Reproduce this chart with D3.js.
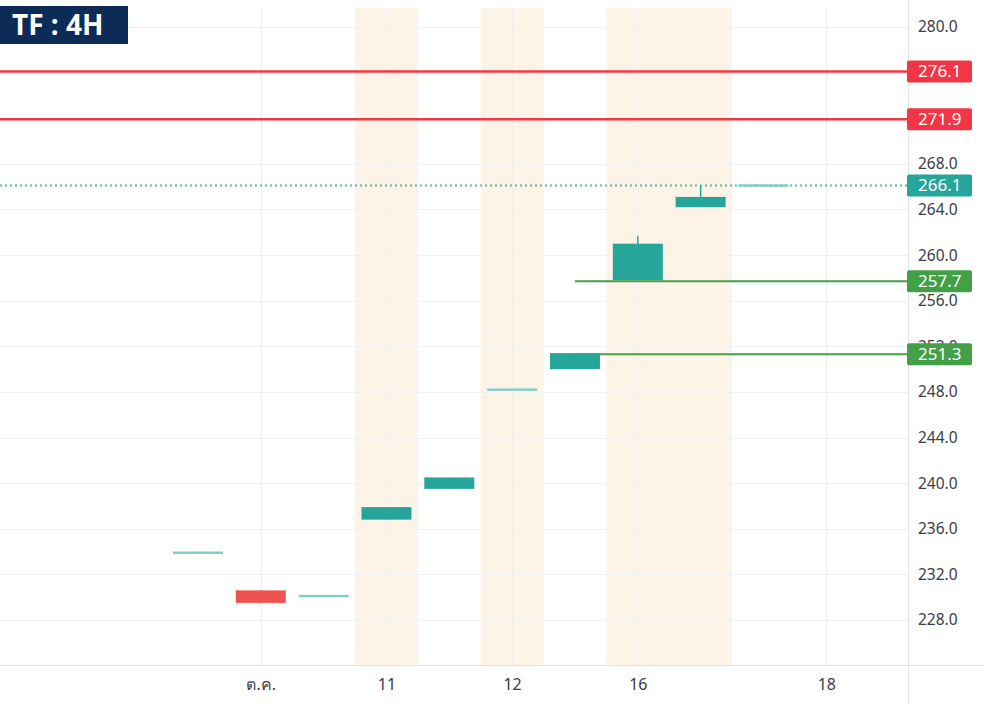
<!DOCTYPE html>
<html><head><meta charset="utf-8">
<script src="https://cdn.jsdelivr.net/npm/d3@7"></script>
<style>html,body{margin:0;padding:0;background:#fff;}svg{display:block;}</style>
</head><body>
<script>
// ---- data ----
const candleIndex = [0, 1, 2, 3, 4, 5, 6, 7, 8, 9];
const opens  = [233.9, 230.6, 230.1, 236.8, 239.5, 248.2, 250.0, 257.8, 264.2, 266.1];
const highs  = [233.9, 230.6, 230.1, 237.9, 240.5, 248.2, 251.4, 261.7, 266.1, 266.1];
const lows   = [233.9, 229.5, 230.1, 236.8, 239.5, 248.2, 250.0, 257.8, 264.2, 266.1];
const closes = [233.9, 229.5, 230.1, 237.9, 240.5, 248.2, 251.4, 261.0, 265.1, 266.1];
const xTickIndex  = [1, 3, 5, 7, 10];
const xTickLabels = ["ต.ค.", "11", "12", "16", "18"];
const yGridTicks = [228, 232, 236, 240, 244, 248, 252, 256, 260, 264, 268, 272, 276, 280];
const yLabelTicks = [228, 232, 236, 240, 244, 248, 252, 256, 260, 264, 268, 280];
const sessionBands = [[3, 3], [5, 5], [7, 8]];
const resistance = [276.1, 271.9];
const supports = [257.7, 251.3];
const supportStart = 6;
const lastPrice = 266.1;
const title = "TF : 4H";

// ---- layout ----
const W = 983, H = 705;
const plotL = 0, plotR = 908, plotT = 8, plotB = 665;
const svg = d3.select("body").append("svg").attr("width", W).attr("height", H);
const font = "'Noto Sans', 'DejaVu Sans', sans-serif";

const x = d3.scaleLinear().domain([-3.15, 11.3]).range([plotL, plotR]);
const y = d3.scaleLinear().domain([228, 280]).range([620, 27]);
const step = x(1) - x(0);
const bodyW = 50;

// session bands
svg.append("g").selectAll("rect").data(sessionBands).join("rect")
  .attr("x", d => x(d[0]) - step / 2)
  .attr("width", d => x(d[1]) - x(d[0]) + step)
  .attr("y", plotT).attr("height", plotB - plotT)
  .attr("fill", "#fdf3e6");

// grid
const grid = svg.append("g");
grid.selectAll("line.h").data(yGridTicks).join("line").attr("class", "h")
  .attr("x1", plotL).attr("x2", plotR)
  .attr("y1", d => Math.round(y(d)) + 0.5).attr("y2", d => Math.round(y(d)) + 0.5)
  .attr("stroke", "#f0f1f4").attr("stroke-width", 1);
grid.selectAll("line.v").data(xTickIndex).join("line").attr("class", "v")
  .attr("y1", plotT).attr("y2", plotB)
  .attr("x1", d => Math.round(x(d)) + 0.5).attr("x2", d => Math.round(x(d)) + 0.5)
  .attr("stroke", "#efeff1").attr("stroke-width", 1);

// last price dotted line
svg.append("line")
  .attr("x1", plotL).attr("x2", plotR)
  .attr("y1", y(lastPrice)).attr("y2", y(lastPrice))
  .attr("stroke", "#26a69a").attr("stroke-opacity", 0.75)
  .attr("stroke-width", 1.8).attr("stroke-dasharray", "2,3");

// resistance lines
svg.append("g").selectAll("line").data(resistance).join("line")
  .attr("x1", plotL).attr("x2", plotR)
  .attr("y1", d => y(d)).attr("y2", d => y(d))
  .attr("stroke", "#f23645").attr("stroke-width", 2.5);

// support lines
svg.append("g").selectAll("line").data(supports).join("line")
  .attr("x1", x(supportStart)).attr("x2", plotR)
  .attr("y1", d => y(d)).attr("y2", d => y(d))
  .attr("stroke", "#43a047").attr("stroke-width", 2);

// candles
const candles = candleIndex.map((i, k) => ({ i, o: opens[k], h: highs[k], l: lows[k], c: closes[k] }));
const cg = svg.append("g");
candles.forEach(d => {
  const cx = x(d.i);
  const doji = d.o === d.c;
  const up = d.c >= d.o;
  const col = doji ? "#7fcdc4" : (up ? "#26a69a" : "#ef5350");
  if (!doji) {
    cg.append("line").attr("x1", cx).attr("x2", cx)
      .attr("y1", y(d.h)).attr("y2", y(d.l))
      .attr("stroke", col).attr("stroke-width", 1.5);
    const top = y(Math.max(d.o, d.c)), bot = y(Math.min(d.o, d.c));
    cg.append("rect").attr("x", cx - bodyW / 2).attr("width", bodyW)
      .attr("y", top).attr("height", Math.max(1, bot - top))
      .attr("fill", col);
  } else {
    cg.append("rect").attr("x", cx - bodyW / 2).attr("width", bodyW)
      .attr("y", y(d.o) - 1.2).attr("height", 2.4).attr("fill", col);
  }
});

// axes frame
svg.append("line").attr("x1", plotR + 0.5).attr("x2", plotR + 0.5).attr("y1", 0).attr("y2", H)
  .attr("stroke", "#e0e3eb");
svg.append("line").attr("x1", 0).attr("x2", W).attr("y1", plotB + 0.5).attr("y2", plotB + 0.5)
  .attr("stroke", "#e0e3eb");

// right axis labels
const yAxis = d3.axisRight(y).tickValues(yLabelTicks).tickFormat(d3.format(".1f")).tickSize(0).tickPadding(10);
const ya = svg.append("g").attr("transform", `translate(${plotR},0)`).call(yAxis);
ya.select(".domain").remove();
ya.selectAll("text").attr("font-family", font).attr("font-size", 15.5).attr("fill", "#3a3d45");

// bottom axis labels
const xAxis = d3.axisBottom(x).tickValues(xTickIndex).tickFormat((d, k) => xTickLabels[k]).tickSize(0).tickPadding(14);
const xa = svg.append("g").attr("transform", `translate(0,${plotB})`).call(xAxis);
xa.select(".domain").remove();
xa.selectAll("text").attr("font-family", font).attr("font-size", 16).attr("fill", "#3a3d45");

// price labels
const priceLabels = [
  ...resistance.map(v => ({ v, c: "#f23645" })),
  { v: lastPrice, c: "#26a69a" },
  ...supports.map(v => ({ v, c: "#43a047" }))
];
const pl = svg.append("g").selectAll("g").data(priceLabels).join("g")
  .attr("transform", d => `translate(${plotR},${y(d.v)})`);
pl.append("rect").attr("x", -1).attr("y", -11).attr("width", 65).attr("height", 22).attr("rx", 2)
  .attr("fill", d => d.c);
pl.append("text").attr("x", 10).attr("y", 0).attr("dy", "0.35em")
  .attr("font-family", font).attr("font-size", 17).attr("fill", "#fff")
  .text(d => d.v.toFixed(1));

// title badge
svg.append("rect").attr("x", 0).attr("y", 6).attr("width", 128).attr("height", 38).attr("fill", "#0c2b56");
svg.append("text").attr("x", 12).attr("y", 25).attr("dy", "0.36em")
  .attr("font-family", font).attr("font-weight", "bold").attr("font-size", 28).attr("fill", "#fff")
  .text(title);
</script>
</body></html>
